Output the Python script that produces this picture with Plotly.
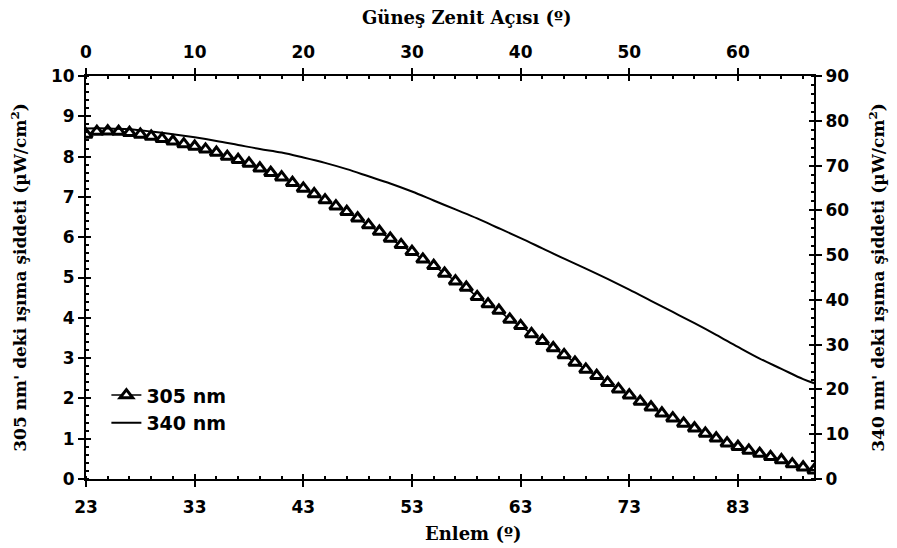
import plotly.graph_objects as go

# Latitude (Enlem) values, one per degree
lat_305 = list(range(23, 91))
val_305 = [8.55, 8.62, 8.63, 8.62, 8.59, 8.55, 8.50, 8.44, 8.38, 8.31,
           8.25, 8.18, 8.10, 8.00, 7.92, 7.83, 7.71, 7.60, 7.49, 7.35,
           7.21, 7.07, 6.92, 6.77, 6.63, 6.47, 6.30, 6.14, 5.97, 5.81,
           5.64, 5.45, 5.29, 5.10, 4.91, 4.75, 4.52, 4.34, 4.18, 3.96,
           3.80, 3.60, 3.43, 3.25, 3.08, 2.89, 2.72, 2.56, 2.39, 2.23,
           2.08, 1.92, 1.78, 1.63, 1.51, 1.38, 1.26, 1.13, 1.01, 0.89,
           0.80, 0.71, 0.63, 0.55, 0.47, 0.37, 0.29, 0.22]

lat_340 = [23, 25, 27, 29, 31, 33, 35, 37, 39, 41, 43, 45, 47, 49, 51, 53, 55,
           57, 59, 61, 63, 65, 67, 69, 71, 73, 75, 77, 79, 81, 83, 85, 87, 89, 90]
val_340 = [78.3, 78.3, 78.1, 77.6, 77.0, 76.3, 75.5, 74.6, 73.7, 72.9, 71.8,
           70.6, 69.2, 67.6, 66.0, 64.2, 62.2, 60.2, 58.2, 56.0, 53.8, 51.5,
           49.2, 47.0, 44.7, 42.3, 39.8, 37.3, 34.8, 32.2, 29.5, 26.9, 24.6,
           22.3, 21.4]

bottom_ticks = [23, 33, 43, 53, 63, 73, 83]
top_ticks = [0, 10, 20, 30, 40, 50, 60]
x_range = [23, 90]
zen_range = [0, 67]
left_range = [0, 10]
right_range = [0, 90]

SANS = "DejaVu Sans, Verdana, sans-serif"
SERIF = "DejaVu Serif, Georgia, serif"
tickfont = dict(family=SANS, size=17, color="black", weight="bold")
titlefont = dict(family=SERIF, size=18, color="black", weight="bold")
sidetitlefont = dict(family=SERIF, size=17, color="black", weight="bold")

fig = go.Figure()

fig.add_trace(go.Scatter(
    x=lat_305, y=val_305, name="305 nm", mode="lines+markers",
    line=dict(color="black", width=1.5),
    marker=dict(symbol="triangle-up", size=11, color="white",
                line=dict(color="black", width=3)),
    xaxis="x", yaxis="y"))

fig.add_trace(go.Scatter(
    x=lat_340, y=val_340, name="340 nm", mode="lines",
    line=dict(color="black", width=2, shape="spline"),
    xaxis="x", yaxis="y2"))

# invisible helpers to carry inside-tick overlay axes and the top axis
fig.add_trace(go.Scatter(x=zen_range, y=right_range, mode="markers",
                         marker=dict(opacity=0), showlegend=False,
                         hoverinfo="skip", xaxis="x2", yaxis="y2"))
fig.add_trace(go.Scatter(x=x_range, y=left_range, mode="markers",
                         marker=dict(opacity=0), showlegend=False,
                         hoverinfo="skip", xaxis="x3", yaxis="y3"))
fig.add_trace(go.Scatter(x=zen_range, y=right_range, mode="markers",
                         marker=dict(opacity=0), showlegend=False,
                         hoverinfo="skip", xaxis="x4", yaxis="y4"))

common = dict(showgrid=False, zeroline=False, linecolor="black", linewidth=2,
              tickcolor="black", tickwidth=2, ticklen=6, tickfont=tickfont)

fig.update_layout(
    width=897, height=548,
    margin=dict(l=86, r=79, t=76, b=69),
    paper_bgcolor="white", plot_bgcolor="white",
    showlegend=True,
    legend=dict(x=0.028, y=0.255, xanchor="left", yanchor="top",
                bgcolor="rgba(0,0,0,0)", borderwidth=0,
                font=dict(family=SANS, size=19, color="black", weight="bold"),
                tracegroupgap=4, itemwidth=30),
    xaxis=dict(range=x_range, tickvals=bottom_ticks, ticks="outside",
               showline=True, mirror=False, ticklabelstandoff=6,
               minor=dict(dtick=2, tick0=23, ticks="inside", ticklen=3,
                          tickwidth=2, tickcolor="black"),
               **common),
    xaxis2=dict(range=zen_range, tickvals=top_ticks, ticks="outside",
                overlaying="x", side="top", anchor="y2", showline=True,
                ticklabelstandoff=3,
                minor=dict(dtick=2, tick0=0, ticks="inside", ticklen=3,
                           tickwidth=2, tickcolor="black"),
                **common),
    yaxis=dict(range=left_range, dtick=1, ticks="outside", showline=True,
               minor=dict(dtick=0.2, ticks="inside", ticklen=3, tickwidth=2,
                          tickcolor="black"),
               title=dict(text="305 nm' deki ışıma şiddeti (µW/cm<sup>2</sup>)",
                          font=sidetitlefont, standoff=20),
               **common),
    yaxis2=dict(range=right_range, dtick=10, ticks="outside", showline=True,
                overlaying="y", side="right", anchor="x",
                minor=dict(dtick=2, ticks="inside", ticklen=3, tickwidth=2,
                           tickcolor="black"),
                title=dict(text="340 nm' deki ışıma şiddeti (µW/cm<sup>2</sup>)",
                           font=sidetitlefont, standoff=24),
                **common),
    xaxis3=dict(range=x_range, tickvals=bottom_ticks, ticks="inside",
                overlaying="x", side="bottom", anchor="y3", showline=False,
                showticklabels=False, showgrid=False, zeroline=False,
                tickcolor="black", tickwidth=2, ticklen=5),
    yaxis3=dict(range=left_range, dtick=1, ticks="inside", overlaying="y",
                side="left", anchor="x3", showline=False,
                showticklabels=False, showgrid=False, zeroline=False,
                tickcolor="black", tickwidth=2, ticklen=5),
    xaxis4=dict(range=zen_range, tickvals=top_ticks, ticks="inside",
                overlaying="x", side="top", anchor="y4", showline=False,
                showticklabels=False, showgrid=False, zeroline=False,
                tickcolor="black", tickwidth=2, ticklen=5),
    yaxis4=dict(range=right_range, dtick=10, ticks="inside", overlaying="y",
                side="right", anchor="x4", showline=False,
                showticklabels=False, showgrid=False, zeroline=False,
                tickcolor="black", tickwidth=2, ticklen=5),
    annotations=[
        dict(text="Güneş Zenit Açısı (º)", xref="paper", yref="paper",
             x=0.523, y=1.146, xanchor="center", yanchor="middle",
             showarrow=False, font=titlefont),
        dict(text="Enlem (º)", xref="paper", yref="paper",
             x=0.531, y=-0.134, xanchor="center", yanchor="middle",
             showarrow=False, font=titlefont),
    ],
)

fig.write_html("out.html")
